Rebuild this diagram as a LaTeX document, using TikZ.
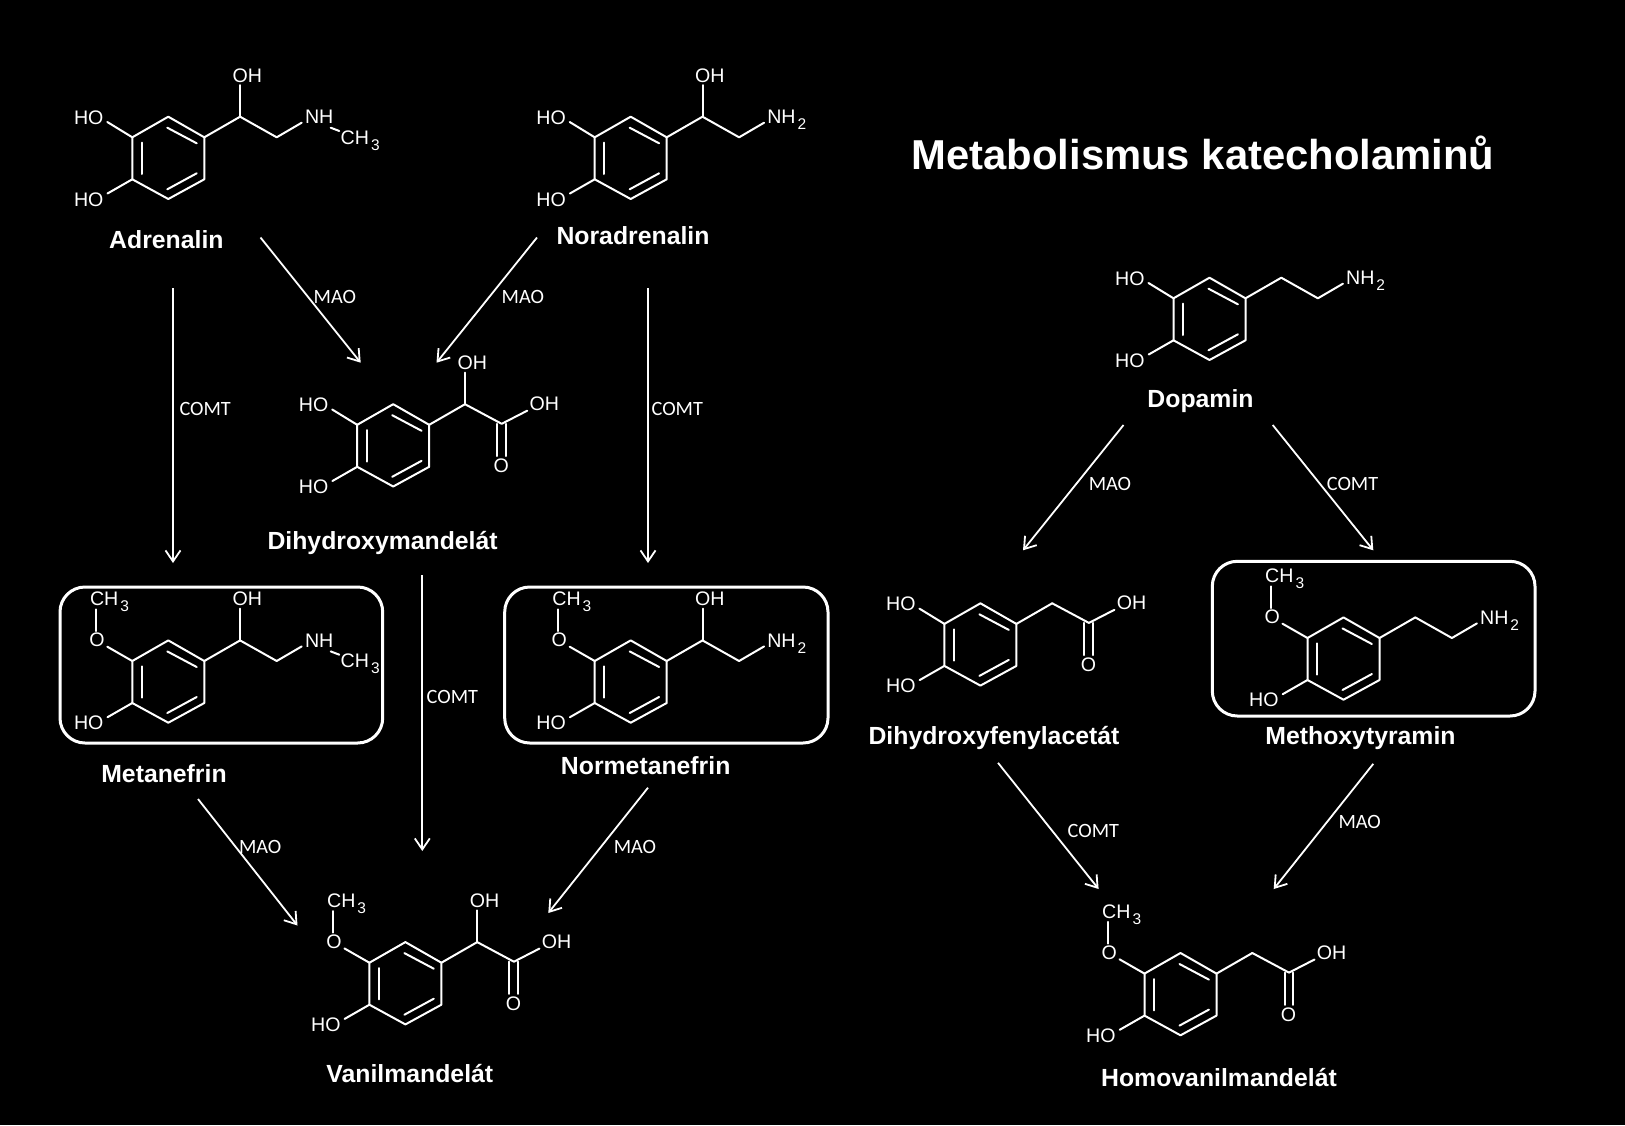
\documentclass[tikz,border=0pt]{standalone}
\usepackage{fontspec}
\setmainfont{Liberation Sans}
\newfontfamily\carlitofont{Carlito}
\usetikzlibrary{arrows.meta}
\newcommand{\subn}[1]{\kern2pt\raisebox{-6pt}{\fontsize{15.5}{15.5}\selectfont #1}}
\tikzset{
  bond/.style={draw=white,line width=2pt,line cap=round,line join=round},
  atom/.style={inner sep=0pt,outer sep=0pt,anchor=base west,yshift=-0.7pt,text=white,font=\fontsize{19.6}{20}\selectfont},
  cmpd/.style={inner sep=0pt,anchor=base,yshift=-1pt,text=white,font=\fontsize{24.8}{26}\selectfont\bfseries},
  enz/.style={inner sep=0pt,anchor=center,text=white,font=\carlitofont\fontsize{20.3}{22}\selectfont},
  rxn/.style={draw=white,line width=1.8pt,-{Straight Barb[length=11pt,width=15pt,line width=1.8pt]}},
  roundbox/.style={draw=white,line width=3pt,rounded corners=25pt},
}
% benzene ring around the scope origin
\newcommand{\bzring}{%
  \coordinate (r1) at (0,-41.3); \coordinate (r2) at (36,-20.7);
  \coordinate (r3) at (36,21.3); \coordinate (r4) at (0,41);
  \coordinate (r5) at (-36,21.3); \coordinate (r6) at (-36,-20.7);
  \draw[bond] (r1) -- (r2) -- (r3) -- (r4) -- (r5) -- (r6) -- cycle;
  \coordinate (i1) at (-26.6,-15.3); \coordinate (i2) at (-26.6,16);
  \coordinate (i3) at (-1,-30.3); \coordinate (i4) at (28.4,-14.7);
  \coordinate (i5) at (-1,31.3); \coordinate (i6) at (28.4,15.3);
  \draw[bond] (i1) -- (i2); \draw[bond] (i3) -- (i4); \draw[bond] (i5) -- (i6);
}
% lower ring HO (all molecules)
\newcommand{\lowerHO}{%
  \node[atom] (ho2) at (-94.3,47.4) {HO};
  \coordinate (ho2b) at (-60.8,35.5);
  \draw[bond] (r5) -- (ho2b);
}
\newcommand{\upperHO}{%
  \node[atom] (ho1) at (-94.3,-34.7) {HO};
  \coordinate (ho1b) at (-61,-36);
  \draw[bond] (r6) -- (ho1b);
}
\newcommand{\methoxy}{%
  \node[atom] (ome) at (-79,-35.7) {O};
  \node[atom] (me) at (-78.3,-76.5) {CH\subn{3}};
  \coordinate (om1) at (-61,-35); \coordinate (om2) at (-72.6,-50.7); \coordinate (om3) at (-72.6,-72.4);
  \draw[bond] (r6) -- (om1); \draw[bond] (om2) -- (om3);
}
% side chains
\newcommand{\alphaC}{\coordinate (c1) at (71.8,-41.3); \draw[bond] (r2) -- (c1);}
\newcommand{\alphaOH}{%
  \node[atom] (oh) at (64.4,-76.5) {OH};
  \coordinate (ohb) at (71.8,-73);
  \draw[bond] (c1) -- (ohb);
}
\newcommand{\aminechain}{%
  \coordinate (c2) at (108.4,-20.7); \coordinate (nb) at (133.4,-35.3);
  \draw[bond] (c1) -- (c2) -- (nb);
}
\newcommand{\nhtwo}{\node[atom] (n) at (136.6,-35.3) {NH\subn{2}};}
\newcommand{\nhme}{%
  \node[atom] (n) at (136.7,-35.3) {NH};
  \node[atom] (me2) at (172.4,-14.7) {CH\subn{3}};
  \coordinate (nm1) at (162.4,-30.3); \coordinate (nm2) at (171,-27);
  \draw[bond] (nm1) -- (nm2);
}
\newcommand{\acid}{%
  \coordinate (c2) at (108.5,-21.7); \coordinate (ob) at (134,-34.8);
  \coordinate (d1) at (104,-21.7); \coordinate (d2) at (104,10.5);
  \coordinate (d3) at (112.8,-21.7); \coordinate (d4) at (112.8,10.5);
  \draw[bond] (c1) -- (c2) -- (ob);
  \draw[bond] (d1) -- (d2); \draw[bond] (d3) -- (d4);
  \node[atom] (oh2) at (136.4,-35.5) {OH};
  \node[atom] (o) at (100.4,26.6) {O};
}
\begin{document}
\begin{tikzpicture}[x=1pt,y=-1pt]
\fill[black] (0,0) rectangle (1625,1125);
\useasboundingbox (0,0) rectangle (1625,1125);

% boxes
\coordinate (bma) at (60,587); \coordinate (bmb) at (382.7,743);
\coordinate (bna) at (504.7,587); \coordinate (bnb) at (828,743);
\coordinate (bta) at (1212.3,561.3); \coordinate (btb) at (1535,716);
\draw[roundbox] (bma) rectangle (bmb);
\draw[roundbox] (bna) rectangle (bnb);
\draw[roundbox] (bta) rectangle (btb);

% molecules
\begin{scope}[shift={(168.3,158)},name prefix=adr-]
  \bzring\upperHO\lowerHO\alphaC\alphaOH\aminechain\nhme
\end{scope}
\begin{scope}[shift={(630.7,158)},name prefix=nor-]
  \bzring\upperHO\lowerHO\alphaC\alphaOH\aminechain\nhtwo
\end{scope}
\begin{scope}[shift={(393.2,445.5)},name prefix=dhm-]
  \bzring\upperHO\lowerHO\alphaC\alphaOH\acid
\end{scope}
\begin{scope}[shift={(168.3,681.7)},name prefix=met-]
  \bzring\methoxy\lowerHO\alphaC\alphaOH\aminechain\nhme
\end{scope}
\begin{scope}[shift={(630.7,681.7)},name prefix=nme-]
  \bzring\methoxy\lowerHO\alphaC\alphaOH\aminechain\nhtwo
\end{scope}
\begin{scope}[shift={(405.4,983.4)},name prefix=van-]
  \bzring\methoxy\lowerHO\alphaC\alphaOH\acid
\end{scope}
\begin{scope}[shift={(1209.5,319)},name prefix=dop-]
  \bzring\upperHO\lowerHO\alphaC\aminechain\nhtwo
\end{scope}
\begin{scope}[shift={(980.4,644.6)},name prefix=dhp-]
  \bzring\upperHO\lowerHO\alphaC\acid
\end{scope}
\begin{scope}[shift={(1343.5,658.7)},name prefix=mty-]
  \bzring\methoxy\lowerHO\alphaC\aminechain\nhtwo
\end{scope}
\begin{scope}[shift={(1180.5,994.3)},name prefix=hom-]
  \bzring\methoxy\lowerHO\alphaC\acid
\end{scope}

% compound names
\node[cmpd] (Ladr) at (166.4,247.3) {Adrenalin};
\node[cmpd] (Lnor) at (633,243.5) {Noradrenalin};
\node[cmpd] (Ldhm) at (382.6,548.3) {Dihydroxymandelát};
\node[cmpd] (Lmet) at (164,781) {Metanefrin};
\node[cmpd] (Lnme) at (645.7,773) {Normetanefrin};
\node[cmpd] (Lvan) at (409.8,1081) {Vanilmandelát};
\node[cmpd] (Ldop) at (1200.5,406.5) {Dopamin};
\node[cmpd] (Ldhp) at (994,743) {Dihydroxyfenylacetát};
\node[cmpd] (Lmty) at (1360.5,743.3) {Methoxytyramin};
\node[cmpd] (Lhom) at (1219,1085) {Homovanilmandelát};
\node[inner sep=0pt,anchor=center,text=white,font=\fontsize{41.8}{44}\selectfont\bfseries] (title) at (1203,152.5) {Metabolismus katecholaminů};

% reactions
\coordinate (s1) at (173,288); \coordinate (e1) at (173,563);
\coordinate (s2) at (260.5,237.5); \coordinate (e2) at (360.7,362.7);
\coordinate (s3) at (537,237.5); \coordinate (e3) at (436.5,362.7);
\coordinate (s4) at (648,288); \coordinate (e4) at (648,563);
\coordinate (s5) at (422.3,575); \coordinate (e5) at (422.3,851);
\coordinate (s6) at (198,799); \coordinate (e6) at (297.5,925.5);
\coordinate (s7) at (648,787.7); \coordinate (e7) at (548.3,913);
\coordinate (s8) at (1123.5,425); \coordinate (e8) at (1023,550.3);
\coordinate (s9) at (1272.7,425); \coordinate (e9) at (1373.3,550.3);
\coordinate (s10) at (998,762.8); \coordinate (e10) at (1098.6,889);
\coordinate (s11) at (1373.3,763.8); \coordinate (e11) at (1273.7,889);
\foreach \i in {1,...,11} {\draw[rxn] (s\i) -- (e\i);}

% enzymes
\node[enz] (m1) at (334.8,297.2) {MAO};
\node[enz] (m2) at (522.9,297.2) {MAO};
\node[enz] (c1) at (205.2,409.2) {COMT};
\node[enz] (c2) at (677.3,409.2) {COMT};
\node[enz] (c3) at (452.4,696.5) {COMT};
\node[enz] (m3) at (260.2,846.7) {MAO};
\node[enz] (m4) at (635,846.7) {MAO};
\node[enz] (m5) at (1110,483.5) {MAO};
\node[enz] (c4) at (1352.5,483.5) {COMT};
\node[enz] (c5) at (1093.4,830.7) {COMT};
\node[enz] (m6) at (1359.7,821.9) {MAO};
\end{tikzpicture}
\end{document}
